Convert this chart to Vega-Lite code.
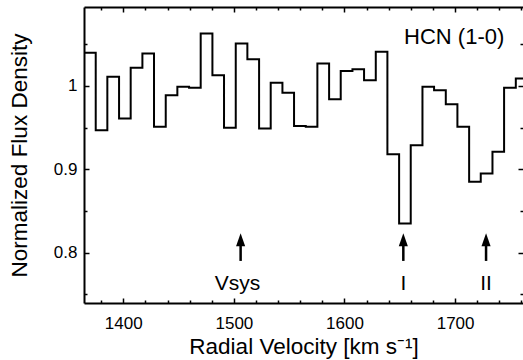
{
  "$schema": "https://vega.github.io/schema/vega-lite/v6.json",
  "width": 439,
  "height": 296,
  "autosize": {"type": "none"},
  "padding": {"left": 84, "top": 7, "right": 0, "bottom": 57},
  "config": {
    "view": {"stroke": null},
    "font": "Liberation Sans",
    "axis": {
      "grid": false,
      "domainColor": "black",
      "domainWidth": 2,
      "tickColor": "black",
      "tickWidth": 1.5,
      "labelColor": "black",
      "titleColor": "black",
      "labelFont": "Liberation Sans",
      "titleFont": "Liberation Sans",
      "labelFontSize": 17,
      "titleFontSize": 22.5,
      "titleFontWeight": "normal"
    }
  },
  "datasets": {
    "spec": [
      {"v": 1364.5, "f": 1.040},
      {"v": 1375.1, "f": 0.947},
      {"v": 1385.6, "f": 1.011},
      {"v": 1396.2, "f": 0.961},
      {"v": 1406.7, "f": 1.022},
      {"v": 1417.3, "f": 1.039},
      {"v": 1427.8, "f": 0.951},
      {"v": 1438.4, "f": 0.989},
      {"v": 1448.9, "f": 0.999},
      {"v": 1459.5, "f": 0.998},
      {"v": 1470.0, "f": 1.063},
      {"v": 1480.6, "f": 1.013},
      {"v": 1491.1, "f": 0.950},
      {"v": 1501.7, "f": 1.051},
      {"v": 1512.2, "f": 1.032},
      {"v": 1522.8, "f": 0.949},
      {"v": 1533.3, "f": 1.004},
      {"v": 1543.9, "f": 0.992},
      {"v": 1554.4, "f": 0.952},
      {"v": 1565.0, "f": 0.951},
      {"v": 1575.5, "f": 1.027},
      {"v": 1586.1, "f": 0.984},
      {"v": 1596.6, "f": 1.018},
      {"v": 1607.2, "f": 1.020},
      {"v": 1617.7, "f": 1.007},
      {"v": 1628.3, "f": 1.041},
      {"v": 1638.8, "f": 0.918},
      {"v": 1649.4, "f": 0.835},
      {"v": 1659.9, "f": 0.929},
      {"v": 1670.5, "f": 0.999},
      {"v": 1681.0, "f": 0.995},
      {"v": 1691.6, "f": 0.978},
      {"v": 1702.1, "f": 0.951},
      {"v": 1712.7, "f": 0.885},
      {"v": 1723.2, "f": 0.895},
      {"v": 1733.8, "f": 0.921},
      {"v": 1744.3, "f": 0.998},
      {"v": 1754.9, "f": 1.009},
      {"v": 1765.4, "f": 1.009}
    ],
    "arrows": [
      {"x": 1506.1, "y1": 0.790, "y2": 0.812, "yh": 0.8154},
      {"x": 1653.2, "y1": 0.790, "y2": 0.812, "yh": 0.8154},
      {"x": 1728.0, "y1": 0.790, "y2": 0.812, "yh": 0.8154}
    ],
    "labels": [
      {"x": 1503.3, "y": 0.755, "t": "Vsys"},
      {"x": 1653.2, "y": 0.755, "t": "I"},
      {"x": 1728.0, "y": 0.755, "t": "II"}
    ],
    "title": [
      {"x": 1699.2, "y": 1.0504, "t": "HCN (1-0)"}
    ]
  },
  "layer": [
    {
      "data": {"name": "spec"},
      "mark": {"type": "line", "interpolate": "step-after", "color": "black", "strokeWidth": 2, "clip": true},
      "encoding": {
        "x": {
          "field": "v", "type": "quantitative",
          "scale": {"domain": [1364.5, 1761.4], "nice": false, "zero": false},
          "axis": {
            "orient": "bottom", "values": [1400, 1500, 1600, 1700], "format": "d",
            "tickSize": -5, "labelPadding": 17,
            "title": "Radial Velocity [km s⁻¹]",
            "titleY": 50.6, "titleBaseline": "alphabetic"
          }
        },
        "y": {
          "field": "f", "type": "quantitative",
          "scale": {"domain": [0.7395, 1.0948], "nice": false, "zero": false},
          "axis": {
            "orient": "left", "values": [0.8, 0.9, 1], "format": "~g",
            "tickSize": -5, "labelPadding": 12,
            "title": "Normalized Flux Density",
            "titleX": -57.3, "titleBaseline": "alphabetic"
          }
        }
      }
    },
    {
      "data": {"name": "arrows"},
      "mark": {"type": "rule", "color": "black", "strokeWidth": 2.5},
      "encoding": {
        "x": {
          "field": "x", "type": "quantitative",
          "scale": {"domain": [1364.5, 1761.4], "nice": false, "zero": false},
          "axis": {
            "orient": "bottom",
            "values": [1380, 1420, 1440, 1460, 1480, 1520, 1540, 1560, 1580, 1620, 1640, 1660, 1680, 1720, 1740, 1760],
            "labels": false, "domain": false, "tickSize": -3, "title": null
          }
        },
        "y": {
          "field": "y1", "type": "quantitative",
          "scale": {"domain": [0.7395, 1.0948], "nice": false, "zero": false},
          "axis": {
            "orient": "left", "values": [0.75, 0.85, 0.95, 1.05],
            "labels": false, "domain": false, "tickSize": -3, "title": null
          }
        },
        "y2": {"field": "y2"}
      }
    },
    {
      "data": {"name": "arrows"},
      "mark": {"type": "point", "shape": "M0,-1L0.7,1L-0.7,1Z", "filled": true, "color": "black", "opacity": 1, "size": 169, "strokeWidth": 0},
      "encoding": {
        "x": {
          "field": "x", "type": "quantitative",
          "scale": {"domain": [1364.5, 1761.4], "nice": false, "zero": false},
          "axis": {
            "orient": "top", "values": [1400, 1500, 1600, 1700],
            "labels": false, "domain": true, "tickSize": -5, "title": null
          }
        },
        "y": {
          "field": "yh", "type": "quantitative",
          "scale": {"domain": [0.7395, 1.0948], "nice": false, "zero": false},
          "axis": {
            "orient": "right", "values": [0.8, 0.9, 1],
            "labels": false, "domain": false, "tickSize": -5, "title": null
          }
        }
      }
    },
    {
      "data": {"name": "labels"},
      "mark": {"type": "text", "fontSize": 21, "align": "center", "baseline": "alphabetic", "color": "black", "font": "Liberation Sans"},
      "encoding": {
        "x": {
          "field": "x", "type": "quantitative",
          "scale": {"domain": [1364.5, 1761.4], "nice": false, "zero": false},
          "axis": {
            "orient": "top",
            "values": [1380, 1420, 1440, 1460, 1480, 1520, 1540, 1560, 1580, 1620, 1640, 1660, 1680, 1720, 1740, 1760],
            "labels": false, "domain": false, "tickSize": -3, "title": null
          }
        },
        "y": {
          "field": "y", "type": "quantitative",
          "scale": {"domain": [0.7395, 1.0948], "nice": false, "zero": false},
          "axis": {
            "orient": "right", "values": [0.75, 0.85, 0.95, 1.05],
            "labels": false, "domain": false, "tickSize": -3, "title": null
          }
        },
        "text": {"field": "t"}
      }
    },
    {
      "data": {"name": "title"},
      "mark": {"type": "text", "fontSize": 22, "align": "center", "baseline": "alphabetic", "color": "black", "font": "Liberation Sans"},
      "encoding": {
        "x": {"field": "x", "type": "quantitative", "scale": {"domain": [1364.5, 1761.4], "nice": false, "zero": false}, "axis": null},
        "y": {"field": "y", "type": "quantitative", "scale": {"domain": [0.7395, 1.0948], "nice": false, "zero": false}, "axis": null},
        "text": {"field": "t"}
      }
    }
  ],
  "resolve": {"axis": {"x": "independent", "y": "independent"}}
}
